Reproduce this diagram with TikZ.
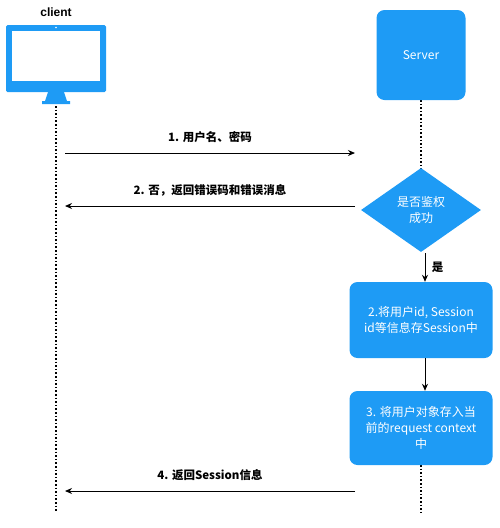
\documentclass[tikz,border=0pt]{standalone}
\usepackage{fontspec}
\setmainfont{Liberation Sans}
\newfontfamily\cjk{Noto Sans CJK SC}
\usetikzlibrary{shapes.geometric,arrows.meta}
\definecolor{blu}{HTML}{1E9BF5}
\begin{document}
\begin{tikzpicture}[x=1pt,y=-1pt,
  box/.style={fill=blu,rounded corners=8pt,text=white,align=center,font=\cjk\fontsize{12}{16}\selectfont,inner sep=2pt},
  msg/.style={-{Stealth[length=7pt,width=6pt]},line width=1pt},
  life/.style={dotted,line width=1.6pt},
  lbl/.style={font=\cjk\fontsize{11.5}{14}\selectfont\bfseries}]
\useasboundingbox (0,0) rectangle (500,528);
% lifelines first
\coordinate (cl) at (56,106);
\coordinate (ce) at (56,512);
\coordinate (st) at (421,100);
\coordinate (sm) at (421,170);
\coordinate (sb) at (421,465);
\coordinate (se) at (421,512);
\draw[life] (cl) -- (ce);
\draw[life] (st) -- (sm);
\draw[life] (sb) -- (se);
% client monitor
\node[font=\bfseries\fontsize{12}{14}\selectfont] (clabel) at (56,12) {client};
\fill[blu,rounded corners=1.5pt] (6,25) rectangle (106,92);
\fill[white] (12,31) rectangle (100,81);
\fill[white] (56,27.5) circle (0.8);
\fill[blu] (48,92) -- (64,92) -- (67,101) -- (70,101) -- (70,104) -- (42,104) -- (42,101) -- (45,101) -- cycle;
% server
\node[box,minimum width=89pt,minimum height=90pt] (server) at (421,55) {Server};
\node[diamond,fill=blu,text=white,minimum width=120pt,minimum height=84pt,inner sep=0pt,align=center,font=\cjk\fontsize{12}{16}\selectfont] (auth) at (421,210) {是否鉴权\\成功};
\node[box,minimum width=143pt,minimum height=76pt] (b2) at (421,320) {2.将用户id, Session\\id等信息存Session中};
\node[box,minimum width=143pt,minimum height=74pt] (b3) at (421,428) {3. 将用户对象存入当\\前的request context\\中};
% messages
\coordinate (m1a) at (65,153); \coordinate (m1b) at (355,153);
\draw[msg] (m1a) -- node[lbl,above=6pt] {1. 用户名、密码} (m1b);
\coordinate (m2a) at (355,206); \coordinate (m2b) at (65,206);
\draw[msg] (m2a) -- node[lbl,above=6pt] {2. 否，返回错误码和错误消息} (m2b);
\coordinate (as) at (425,253);
\draw[msg] (as) -- (as |- b2.north) node[midway,right=3pt,lbl] {是};
\coordinate (b2s) at (425,358);
\draw[msg] (b2s) -- (b2s |- b3.north);
\coordinate (m4a) at (355,491); \coordinate (m4b) at (65,491);
\draw[msg] (m4a) -- node[lbl,above=6pt] {4. 返回Session信息} (m4b);
\end{tikzpicture}
\end{document}
